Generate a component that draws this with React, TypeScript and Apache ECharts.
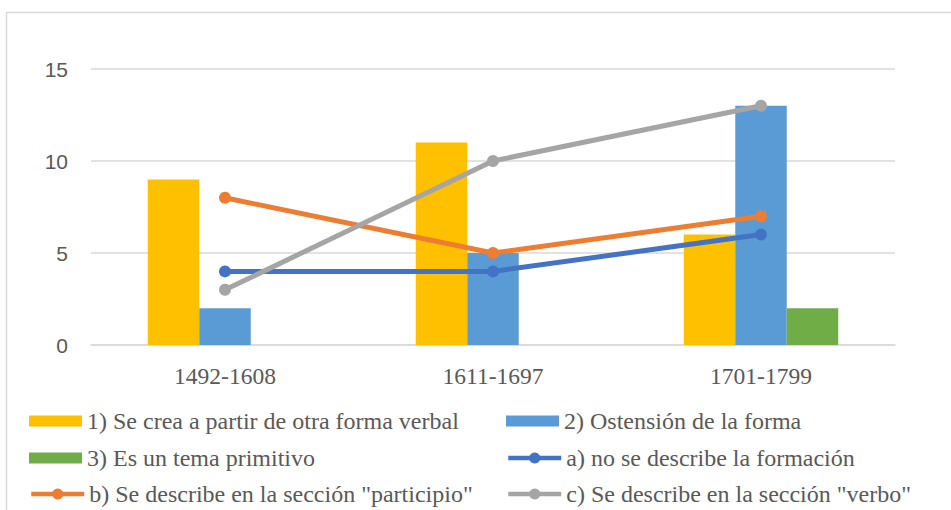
import React, { useEffect, useRef } from "react";
import * as echarts from "echarts";

const categories = ["1492-1608", "1611-1697", "1701-1799"];
const barNames = [
  "1) Se crea a partir de otra forma verbal",
  "2) Ostensión de la forma",
  "3) Es un tema primitivo",
];
const lineNames = [
  "a) no se describe la formación",
  'b) Se describe en la sección "participio"',
  'c) Se describe en la sección "verbo"',
];
const bar1 = [9, 11, 6];
const bar2 = [2, 5, 13];
const bar3 = [0, 0, 2];
const lineA = [4, 4, 6];
const lineB = [8, 5, 7];
const lineC = [3, 10, 13];
const yTicks = { min: 0, max: 15, interval: 5 };

const barColors = ["#FFC000", "#5B9BD5", "#70AD47"];
const lineColors = ["#4472C4", "#ED7D31", "#A5A5A5"];

export default function App() {
  const ref = useRef<HTMLDivElement>(null);
  useEffect(() => {
    if (!ref.current) return;
    const chart = echarts.init(ref.current, null, { renderer: "svg" });
    const serif = "'Liberation Serif', 'Times New Roman', serif";
    const textStyle = { fontFamily: serif, fontSize: 24, color: "#595959", lineHeight: 24 };
    const legendBase = {
      orient: "horizontal" as const,
      itemWidth: 53,
      itemGap: 0,
      padding: 0,
      textStyle,
      selectedMode: false,
    };
    const legendPos = [
      { name: barNames[0], left: 29, top: 409, icon: "rect" },
      { name: barNames[1], left: 506, top: 409, icon: "rect" },
      { name: barNames[2], left: 29, top: 446, icon: "rect" },
      { name: lineNames[0], left: 506, top: 446 },
      { name: lineNames[1], left: 29, top: 482 },
      { name: lineNames[2], left: 506, top: 482 },
    ];
    const barData = [bar1, bar2, bar3];
    const lineData = [lineA, lineB, lineC];
    chart.setOption({
      animation: false,
      graphic: [
        {
          type: "rect",
          shape: { x: 6.5, y: 12.5, width: 1000, height: 1000 },
          style: { fill: "none", stroke: "#D9D9D9", lineWidth: 1.5 },
          silent: true,
        },
      ],
      legend: legendPos.map((p) => ({
        ...legendBase,
        itemHeight: p.icon ? 11 : 14,
        left: p.left,
        top: p.top,
        data: [
          p.icon
            ? { name: p.name, icon: p.icon }
            : { name: p.name, lineStyle: { width: 4.5 } },
        ],
      })),
      grid: { left: 91, right: 56, top: 69, bottom: 165 },
      xAxis: {
        type: "category",
        data: categories,
        axisLine: { lineStyle: { color: "#D9D9D9", width: 1.5 } },
        axisTick: { show: false },
        axisLabel: { fontFamily: serif, fontSize: 23.5, color: "#595959", margin: 19 },
      },
      yAxis: {
        type: "value",
        min: yTicks.min,
        max: yTicks.max,
        interval: yTicks.interval,
        axisLine: { show: false },
        axisTick: { show: false },
        splitLine: { lineStyle: { color: "#D9D9D9", width: 1.5 } },
        axisLabel: {
          fontFamily: "'Liberation Sans', Arial, sans-serif",
          fontSize: 21,
          color: "#595959",
          margin: 23,
        },
      },
      series: [
        ...barNames.map((name, i) => ({
          name,
          type: "bar",
          data: barData[i],
          barWidth: 51.5,
          barGap: "0%",
          itemStyle: { color: barColors[i] },
        })),
        ...lineNames.map((name, i) => ({
          name,
          type: "line",
          data: lineData[i],
          symbol: "circle",
          symbolSize: 12,
          lineStyle: { color: lineColors[i], width: 5 },
          itemStyle: { color: lineColors[i] },
          z: 3,
        })),
      ],
    });
    return () => chart.dispose();
  }, []);
  return (
    <div
      ref={ref}
      style={{ position: "fixed", left: 0, top: 0, width: 951, height: 510, background: "#fff" }}
    />
  );
}
